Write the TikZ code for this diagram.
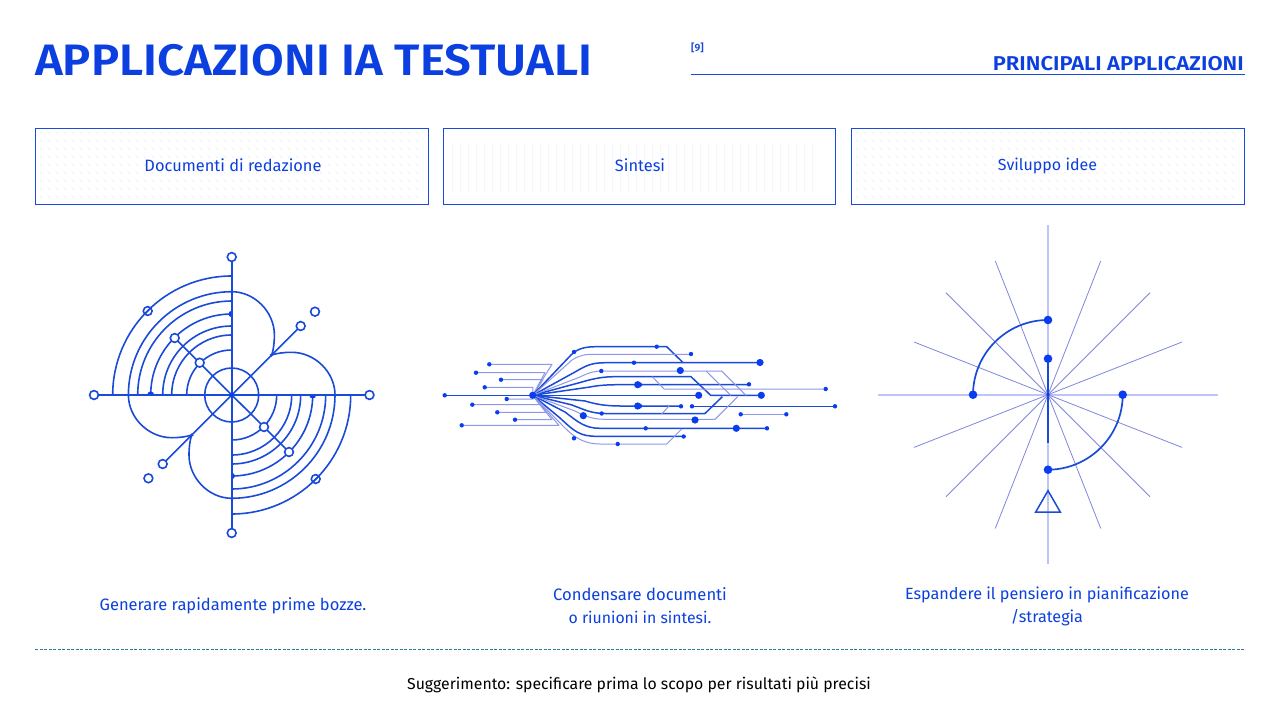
\documentclass[tikz,border=0pt]{standalone}
\usepackage{graphicx}
\usepackage{fontspec}
\setmainfont{Fira Sans}
\newfontfamily\tfont{Fira Sans SemiBold}
\definecolor{bl}{HTML}{1A4BD8}
\definecolor{tx}{HTML}{0B3FE0}
\definecolor{dotc}{HTML}{0A3CF0}
\definecolor{lite}{HTML}{BFC4F8}
\definecolor{mid}{HTML}{8F97E8}
\definecolor{spoke}{HTML}{7F86DE}
\definecolor{pat}{HTML}{DADCE6}
\definecolor{pat2}{HTML}{F5F6FA}
\definecolor{dashc}{HTML}{2A7C9C}
\tikzset{
 x=1pt,y=-1pt,
 box/.style={draw=bl,line width=1.5pt},
 lab/.style={text=tx,align=center,inner sep=0pt},
 lnd/.style={draw=bl,line width=1.5pt,line join=round},
 lnl/.style={draw=mid,line width=1pt,line join=round},
 lnt/.style={draw=lite,line width=2.2pt},
 ring/.style={draw=bl,line width=1.6pt,fill=white},
 ringo/.style={draw=bl,line width=1.6pt},
}
\newcommand{\dt}[3]{\fill[dotc] (#1,#2) circle[radius=#3pt];}
\newcommand{\patt}[1]{\foreach \i in {0,...,47}{\foreach \j in {0,...,8}{\fill[pat] ({#1+6+8*\i},{133+8*\j}) circle[radius=0.7pt];}}}
\newcommand{\fs}[1]{\fontsize{#1}{23}\selectfont}
\begin{document}
\begin{tikzpicture}
\useasboundingbox (0,0) rectangle (1280,720);
\fill[white] (0,0) rectangle (1280,720);
% header
\node[anchor=base west,inner sep=0pt,text=tx,font=\fontsize{44}{44}\selectfont\tfont] (title) at (35,75.5) {\scalebox{1.077}[1]{APPLICAZIONI IA TESTUALI}};
\node[anchor=base west,inner sep=0pt,text=bl,font=\fontsize{10.5}{11}\selectfont\tfont] (ref) at (691,51) {[9]};
\node[anchor=base east,inner sep=0pt,text=tx,font=\fontsize{20}{20}\selectfont\tfont] (sub) at (1244,70) {\scalebox{1.098}[1]{PRINCIPALI APPLICAZIONI}};
\draw[bl,line width=1.1pt] (691,74.5) -- (1244.5,74.5);
% boxes
\patt{35}\patt{851}
\foreach \i in {0,...,45}{\draw[pat2,line width=0.7pt] ({452+8*\i},{143}) -- ({452+8*\i},{192});}
\draw[box] (35.5,128.5) rectangle (428.5,204.5);
\draw[box] (443.5,128.5) rectangle (835.5,204.5);
\draw[box] (851.5,128.5) rectangle (1244.5,204.5);
\node[lab,font=\fs{16.4}] (b1) at (233,165) {Documenti di redazione};
\node[lab,font=\fs{16.4}] (b2) at (640,165) {Sintesi};
\node[lab,font=\fs{16}] (b3) at (1047.5,165.5) {Sviluppo idee};
% figure 1
\begin{scope}[shift={(231.7,395)}]
 \foreach \r in {45,60,69,81,94,103.3,119}{
  \draw[ringo] (-\r,0) arc[start angle=180,end angle=90,radius=\r pt];
  \draw[ringo] (\r,0) arc[start angle=0,end angle=-90,radius=\r pt];
 }
 \foreach \a in {0,180}{
 \begin{scope}[rotate=\a]
  \draw[ringo] (0,-103.3) .. controls (23,-103.3) and (42.7,-83) .. (42.7,-60) .. controls (42.7,-52) and (41.7,-45) .. (40,-40);
  \draw[ringo] (103.3,0) .. controls (103.3,-23) and (83,-42.7) .. (60,-42.7) .. controls (52,-42.7) and (45,-41.7) .. (40,-40);
  \fill[dotc] (0,-81) ++(0,3.2) arc[start angle=-90,end angle=-270,radius=3.2pt] -- cycle;
  \fill[dotc] (-81,0) ++(-3.5,0) arc[start angle=180,end angle=0,radius=3.5pt] -- cycle;
  \fill[bl] (40,-40) ++(-2,-1) -- ++(4.5,0) -- ++(-3,3) -- cycle;
 \end{scope}}
 \draw[ringo] (-137.7,0) -- (137.8,0);
 \draw[ringo] (0,-138) -- (0,138);
 \draw[ringo] (0,0) circle[radius=27pt];
 \draw[ringo] (-57,-57) -- (57.3,57);
 \draw[ringo] (69,-69) -- (-69,69);
 \foreach \p/\q in {-137.7/0,137.8/0,0/-138,0/138,-57/-57,57.3/57,-32/-32.3,32.3/32,69/-69,-69/69,83.3/-83.3,-83.3/83.3}{
  \draw[ring] (\p,\q) circle[radius=4.4pt];}
 \foreach \p/\q in {-84/-84,84/84}{\draw[ringo] (\p,\q) circle[radius=4.4pt];
  \draw[ringo] (\p-3,\q+3) -- (\p+3,\q-3);}
 \fill[dotc] (0,0) circle[radius=2.2pt];
\end{scope}
% figure 2 left stubs
\coordinate (hub) at (532.7,395.3);
\foreach \x/\y/\e in {489.3/364.3/552,476/372.7/545,501/379.7/543,484.7/387.3/533,506.7/399/533,472.3/404.7/540,497.3/412.3/546,515/419.7/552,461.7/425.3/559}{
 \draw[lnl] (\x,\y) -- (\e,\y) -- (hub);
 \dt{\x}{\y}{2.2}
}
\draw[lnd] (444.7,395.3) -- (hub);\dt{444.7}{395.3}{2.2}
% right fan: dark
\draw[lnd] (hub) -- (571,355) .. controls (577,349) and (584,346.7) .. (596,346.7) -- (666.7,346.7) -- (682.7,362.3);
\draw[lnd] (hub) -- (575,372) .. controls (587,365) and (592,362.7) .. (606,362.7) -- (760,362.7);
\draw[lnd] (hub) -- (582,382) .. controls (595,378) and (605,376.7) .. (615,376.7) -- (691,376.7) -- (710.7,395.3) -- (761.3,395.3);
\draw[lnd] (hub) -- (590,387) .. controls (600,385) and (610,384.7) .. (620,384.7) -- (749,384.7);
\draw[lnd] (hub) -- (698.7,395.3);
\draw[lnd] (hub) -- (585,401) .. controls (595,404) and (605,406) .. (620,406) -- (681,406);
\draw[lnd] (hub) -- (572,405) .. controls (585,410) and (592,413.5) .. (605,413.5) -- (705,413.5) -- (722.3,396.7);
\draw[lnd] (hub) -- (565,412) .. controls (578,422) and (585,428.3) .. (600,428.3) -- (767,428.3);
\draw[lnd] (hub) -- (560,418) .. controls (575,432) and (580,436.3) .. (597,436.3) -- (683.7,436.3);
\draw[lnd] (692,406.3) -- (835,406.3);
% right fan: light
\draw[lnl] (hub) -- (572,360) .. controls (580,355) and (585,354.3) .. (595,354.3) -- (691,354.3);
\draw[lnl] (hub) -- (580,377) .. controls (590,372) and (595,371) .. (605,371) -- (721.7,371) -- (746,395.3);
\draw[lnl] (706,371) -- (730.7,395.3);
\draw[lnl] (652.3,376.7) -- (664,389) -- (825.7,389);
\draw[lnl] (hub) -- (575,411) .. controls (585,416) and (592,419.3) .. (605,419.3) -- (715,419.3) -- (737.7,396.7);
\draw[lnl] (hub) -- (565,428) .. controls (575,438) and (585,444) .. (600,444) -- (666.7,444) -- (681.7,429);
\draw[lnl] (669,406) -- (661.7,414);
\draw[lnl] (740.7,414.3) -- (786.3,414.3);
\fill[dotc] (hub) circle[radius=3.6pt];
\foreach \x/\y in {574/352,656.7/346.7,691/354,634/362.7,601.3/371,749/384.3,825.7/389,640/384.7,640/406,681/406.3,692/406.3,835/406.3,601.7/413.5,645.7/428.3,767/428.3,683.7/436.5,574/438.3,617.7/444,740.7/414.3,786.3/414.3}{\dt{\x}{\y}{2.2}}
\foreach \x/\y in {760/362.5,680.3/370.5,637.7/384.7,698.7/395.3,761.3/395.3,637.7/406,583.3/415.7,695/420,736.3/428.3}{\dt{\x}{\y}{3.6}}
% figure 3
\draw[lnt] (878.3,394.7) -- (1217.7,394.7);
\draw[lnt] (1048,225.3) -- (1048,564.3);
\foreach \a/\b in {52.7/133.7,102/102,134/52.7}{
 \draw[spoke,line width=0.8pt] (1048-\a,394.7-\b) -- (1048+\a,394.7+\b);
 \draw[spoke,line width=0.8pt] (1048+\a,394.7-\b) -- (1048-\a,394.7+\b);
}
\draw[bl,line width=1.7pt] (1048,358.7) -- (1048,443.3);
\draw[bl,line width=1.7pt] (1048,320) arc[start angle=90,end angle=180,radius=75pt];
\draw[bl,line width=1.7pt] (1122.7,394.7) arc[start angle=0,end angle=-90,radius=75pt];
\foreach \x/\y in {1048/320,1048/358.7,973/394.7,1122.7/394.7,1048/469.7}{\dt{\x}{\y}{4.3}}
\dt{1048}{394.7}{1.8}
\draw[bl,line width=1.5pt,line join=miter] (1048,490.7) -- (1060.3,512) -- (1035.7,512) -- cycle;
% captions
\node[lab,font=\fs{16.5}] (c1) at (233,606) {Generare rapidamente prime bozze.};
\node[lab,font=\fs{16.6}] (c2) at (640,606) {Condensare documenti\\{\fs{15.8}o riunioni in sintesi.}};
\node[lab,font=\fs{16.2}] (c3) at (1047,606) {Espandere il pensiero in pianificazione\\/strategia};
% footer
\draw[dashc,line width=1pt,dash pattern=on 3pt off 1.5pt] (35,649) -- (1244,649);
\node[lab,text=black,font=\fs{15.8}] (foot) at (639,685) {Suggerimento: specificare prima lo scopo per risultati più precisi};
\end{tikzpicture}
\end{document}
